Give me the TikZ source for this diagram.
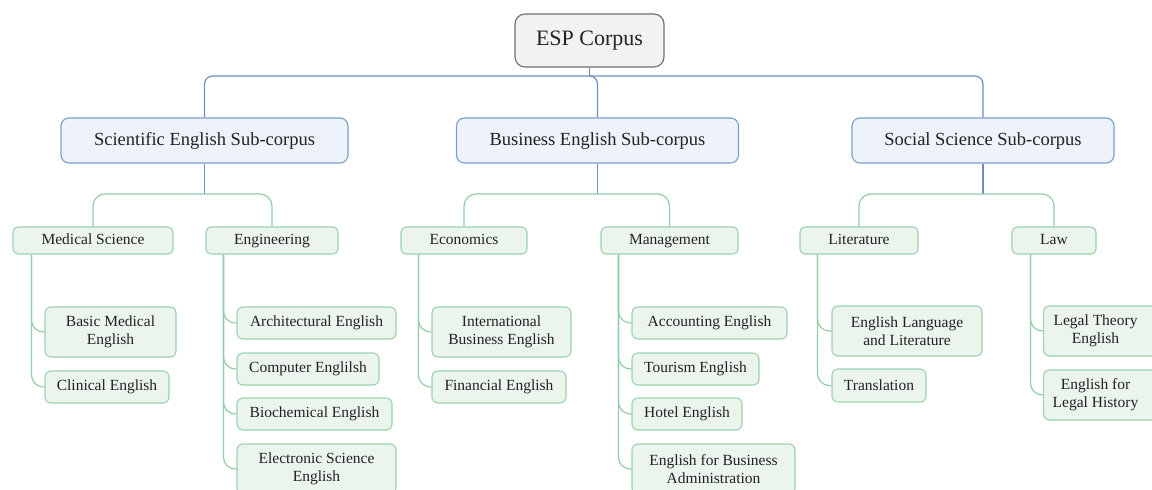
\documentclass[tikz,border=0pt]{standalone}
\usepackage{fontspec}
\setmainfont{Liberation Serif}
\definecolor{bline}{HTML}{6B8FC2}
\definecolor{bfill}{HTML}{EEF3FB}
\definecolor{bdraw}{HTML}{7A9DD0}
\definecolor{gline}{HTML}{93CDA6}
\definecolor{gfill}{HTML}{EBF5EE}
\definecolor{gdraw}{HTML}{9BD3AD}
\definecolor{rfill}{HTML}{F2F2F2}
\definecolor{rdraw}{HTML}{6E6E6E}
\definecolor{txt}{HTML}{222222}
\tikzset{
  rootbox/.style={draw=rdraw, fill=rfill, line width=1.1pt, rounded corners=10pt, inner sep=0pt, text=txt,
    text height=15pt, text depth=4.5pt, font=\fontsize{22}{26}\selectfont},
  subbox/.style={draw=bdraw, fill=bfill, line width=1.1pt, rounded corners=8pt, inner sep=0pt, text=txt,
    text height=13pt, text depth=4pt, minimum height=45pt, font=\fontsize{18.5}{22}\selectfont},
  catbox/.style={draw=gdraw, fill=gfill, line width=1.1pt, rounded corners=5pt, inner sep=0pt, text=txt,
    text height=11pt, text depth=3.5pt, minimum height=27pt, font=\fontsize{15.5}{18}\selectfont},
  leafbox/.style={draw=gdraw, fill=gfill, line width=1.1pt, rounded corners=6pt, inner sep=0pt, text=txt,
    align=center, font=\fontsize{15.5}{18}\selectfont},
  blueconn/.style={draw=bline, line width=1.2pt, rounded corners=8pt},
  greenconn/.style={draw=gline, line width=1.2pt, rounded corners=12pt},
}
\begin{document}
\begin{tikzpicture}[x=1pt,y=-1pt]
\useasboundingbox (0,0) rectangle (1152,490);
\begin{scope}
\clip (0,0) rectangle (1152,490);
% root
\node[rootbox, minimum width=149pt, minimum height=53pt] (root) at (589.5,40.5) {ESP Corpus};
% sub-corpora
\node[subbox, minimum width=287pt] (sci) at (204.5,140.5) {Scientific English Sub-corpus};
\node[subbox, minimum width=282pt] (bus) at (597.5,140.5) {Business English Sub-corpus};
\node[subbox, minimum width=262pt] (soc) at (983,140.5) {Social Science Sub-corpus};
% categories
\node[catbox, minimum width=160pt] (med) at (93,240.5) {Medical Science};
\node[catbox, minimum width=132pt] (eng) at (272,240.5) {Engineering};
\node[catbox, minimum width=126pt] (eco) at (464,240.5) {Economics};
\node[catbox, minimum width=137pt] (man) at (669.5,240.5) {Management};
\node[catbox, minimum width=118pt] (lit) at (859,240.5) {Literature};
\node[catbox, minimum width=84pt] (law) at (1054,240.5) {Law};
% leaves
\node[leafbox, minimum width=131pt, minimum height=50pt] (bme) at (110.5,332) {Basic Medical\\English};
\node[leafbox, minimum width=124pt, minimum height=32pt] (cli) at (107,387) {Clinical English};
\node[leafbox, minimum width=159pt, minimum height=32pt] (arc) at (316.5,323) {Architectural English};
\node[leafbox, minimum width=142pt, minimum height=32pt] (com) at (308,369) {Computer Englilsh};
\node[leafbox, minimum width=155pt, minimum height=32pt] (bio) at (314.5,414) {Biochemical English};
\node[leafbox, minimum width=159pt, minimum height=50pt] (ele) at (316.5,469) {Electronic Science\\English};
\node[leafbox, minimum width=139pt, minimum height=50pt] (ibe) at (501.5,332) {International\\Business English};
\node[leafbox, minimum width=134pt, minimum height=32pt] (fin) at (499,387) {Financial English};
\node[leafbox, minimum width=155pt, minimum height=32pt] (acc) at (709.5,323) {Accounting English};
\node[leafbox, minimum width=127pt, minimum height=32pt] (tou) at (695.5,369) {Tourism English};
\node[leafbox, minimum width=110pt, minimum height=32pt] (hot) at (687,414) {Hotel English};
\node[leafbox, minimum width=163pt, minimum height=50pt] (eba) at (713.5,469) {English for Business\\Administration};
\node[leafbox, minimum width=150pt, minimum height=50pt] (ell) at (907,331) {English Language\\and Literature};
\node[leafbox, minimum width=94pt, minimum height=33pt] (tra) at (879,385.5) {Translation};
\node[leafbox, minimum height=50pt, anchor=west] (lte) at (1043,331) {\parbox{104pt}{\centering Legal Theory\\English}\hspace{16pt}};
\node[leafbox, minimum height=50pt, anchor=west] (elh) at (1043,395) {\parbox{104pt}{\centering English for\\Legal History}\hspace{16pt}};
% root connectors
\coordinate (hub) at (589.5,76);
\draw[blueconn] (root.south) -- (hub);
\draw[blueconn] (sci.north) |- (hub) -| (soc.north);
\draw[blueconn] (hub) -| (bus.north);
% sub-corpus to categories
\coordinate (scih) at (204.5,194);
\coordinate (bush) at (597.5,194);
\coordinate (soch) at (983,194);
\draw[blueconn] (sci.south) -- (scih);
\draw[blueconn] (bus.south) -- (bush);
\draw[blueconn] (soc.south) -- (soch);
\draw[greenconn] (med.north) |- (scih) -| (eng.north);
\draw[greenconn] (eco.north) |- (bush) -| (man.north);
\draw[greenconn] (lit.north) |- (soch) -| (law.north);
% categories to leaves
\draw[greenconn] ([xshift=19pt]med.south west) |- (bme.west);
\draw[greenconn] ([xshift=19pt]med.south west) |- (cli.west);
\draw[greenconn] ([xshift=18pt]eng.south west) |- (arc.west);
\draw[greenconn] ([xshift=18pt]eng.south west) |- (com.west);
\draw[greenconn] ([xshift=18pt]eng.south west) |- (bio.west);
\draw[greenconn] ([xshift=18pt]eng.south west) |- (ele.west);
\draw[greenconn] ([xshift=18pt]eco.south west) |- (ibe.west);
\draw[greenconn] ([xshift=18pt]eco.south west) |- (fin.west);
\draw[greenconn] ([xshift=18pt]man.south west) |- (acc.west);
\draw[greenconn] ([xshift=18pt]man.south west) |- (tou.west);
\draw[greenconn] ([xshift=18pt]man.south west) |- (hot.west);
\draw[greenconn] ([xshift=18pt]man.south west) |- (eba.west);
\draw[greenconn] ([xshift=18pt]lit.south west) |- (ell.west);
\draw[greenconn] ([xshift=18pt]lit.south west) |- (tra.west);
\draw[greenconn] ([xshift=19pt]law.south west) |- (lte.west);
\draw[greenconn] ([xshift=19pt]law.south west) |- (elh.west);
\end{scope}
\end{tikzpicture}
\end{document}
